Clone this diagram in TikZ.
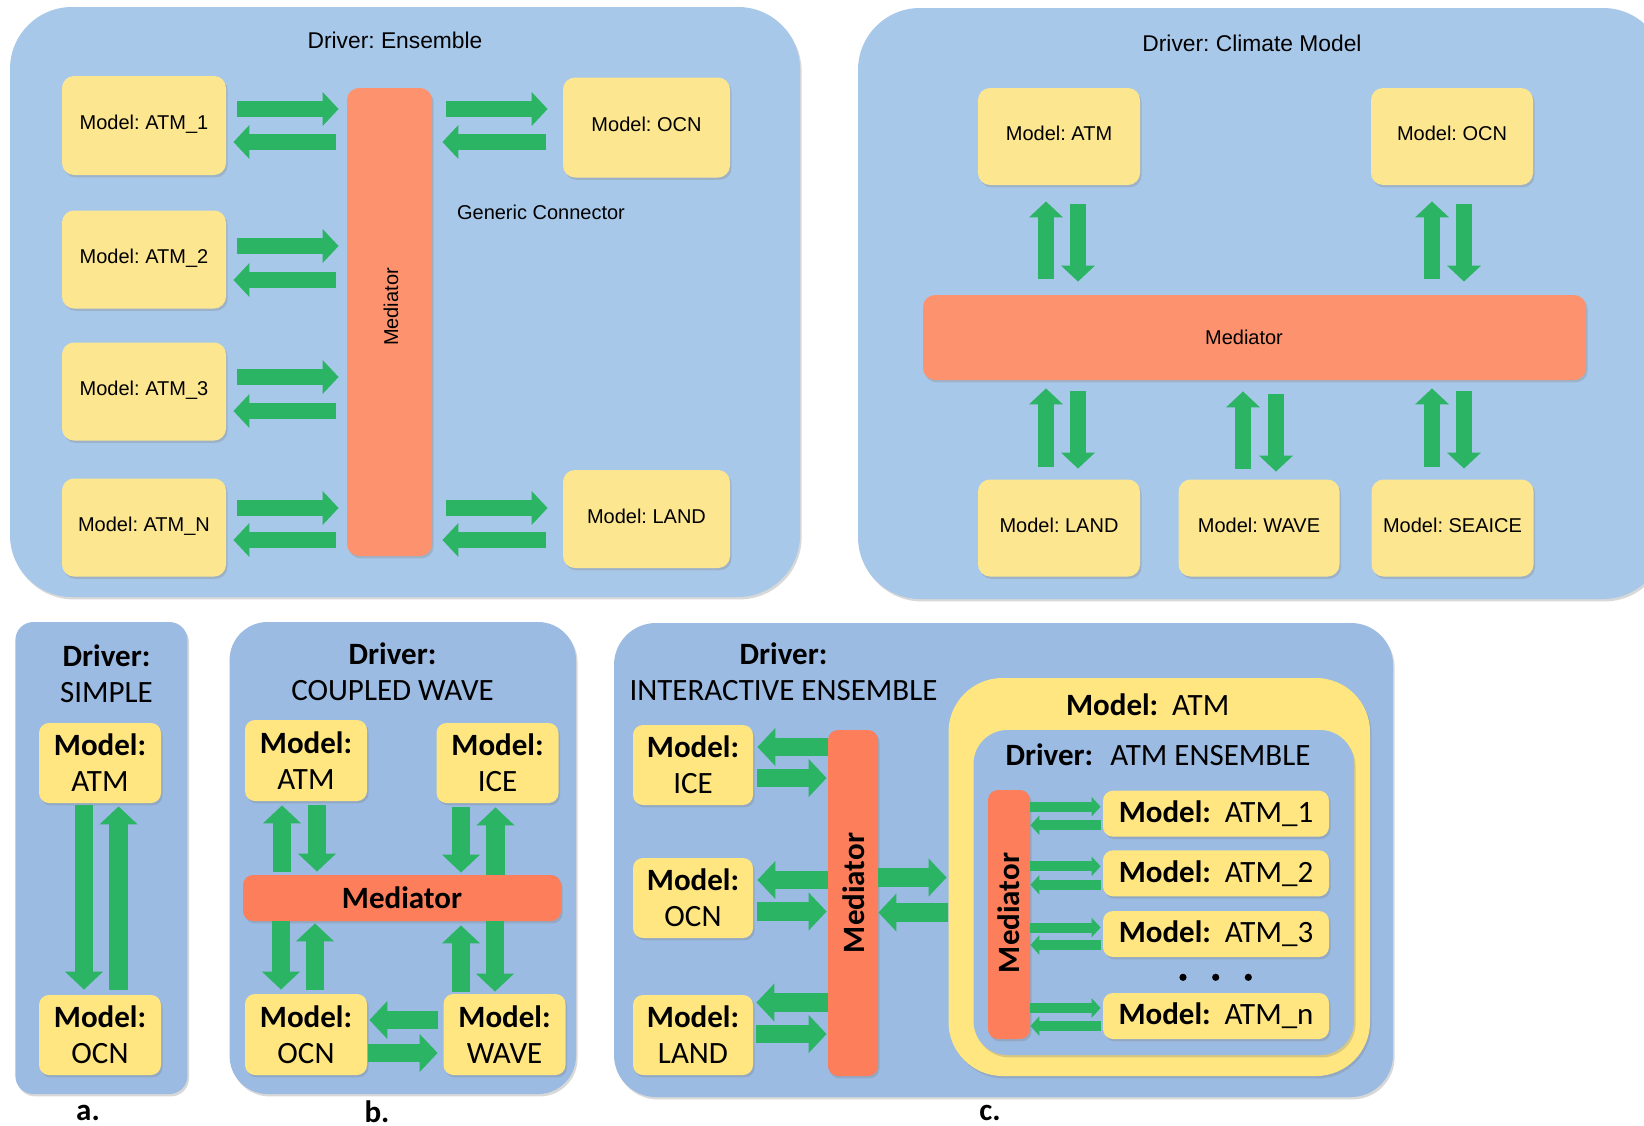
\documentclass[tikz,border=0pt]{standalone}
\usepackage{fontspec}
\setmainfont{Liberation Sans}
\newfontfamily\calfont{Carlito}
\usetikzlibrary{arrows.meta,calc,shadows}
\frenchspacing

\definecolor{blueT}{HTML}{A8C8EA}
\definecolor{blueB}{HTML}{9BBBE3}
\definecolor{yelT}{HTML}{FCE690}
\definecolor{yelB}{HTML}{FFE680}
\definecolor{orT}{HTML}{FD926E}
\definecolor{orB}{HTML}{FD7E5A}
\definecolor{arrowgreen}{HTML}{2BB463}

\newcommand\fTop{\fontsize{10}{12}\selectfont}
\newcommand\fHead{\fontsize{11.4}{13.7}\selectfont}
\newcommand\fBot{\calfont\fontsize{15.5}{18}\selectfont}

\begin{document}
\begin{tikzpicture}[x=0.5pt,y=-0.5pt,
  sz/.style 2 args={minimum width=#1*0.5pt,minimum height=#2*0.5pt},
  shade/.style={drop shadow={shadow xshift=0.8pt,shadow yshift=-1.2pt,opacity=0.3}},
  panelT/.style={fill=blueT,rounded corners=31pt,inner sep=0pt,shade},
  boxT/.style={fill=yelT,rounded corners=6pt,inner sep=0pt,align=center,font=\fTop,
               text height=7pt,text depth=3pt,shade},
  medT/.style={fill=orT,rounded corners=6pt,inner sep=0pt,shade},
  fatT/.style={draw=arrowgreen,line width=8pt,-{Triangle[width=16.5pt,length=8pt]}},
  panelB/.style={fill=blueB,inner sep=0pt,shade},
  boxB/.style={fill=yelB,rounded corners=5pt,inner sep=0pt,align=center,font=\fBot,shade},
  medB/.style={fill=orB,rounded corners=5pt,inner sep=0pt,font=\fBot\bfseries,shade},
  fatB/.style={draw=arrowgreen,line width=9.25pt,-{Triangle[width=18.5pt,length=9pt]}},
  thinB/.style={draw=arrowgreen,line width=5pt,-{Triangle[width=9.5pt,length=4.5pt]}},
  dot/.style={circle,fill=black,inner sep=0pt,minimum size=3.6pt},
  sublabel/.style={font=\fBot\bfseries,inner sep=0pt}]

\useasboundingbox (0,0) rectangle (1644,1125);
\fill[white] (0,0) rectangle (1644,1125);
\clip (0,0) rectangle (1644,1125);

%% ---------------- Driver: Ensemble ----------------
\node[panelT,sz={790}{590}] (drvE) at (405,302) {};
\node[font=\fHead] (ttlE) at (395,40) {Driver: Ensemble};
\node[boxT,sz={164}{99}] (eA1) at (144,125.5) {Model: ATM\_1};
\node[boxT,sz={164}{98}] (eA2) at (144,259.5) {Model: ATM\_2};
\node[boxT,sz={164}{98}] (eA3) at (144,391.5) {Model: ATM\_3};
\node[boxT,sz={164}{98}] (eAN) at (144,527.5) {Model: ATM\_N};
\node[medT,sz={85}{468}] (eMed) at (389.5,322) {};
\node[font=\fTop,rotate=90] (eMedLbl) at (391,307) {Mediator};
\node[boxT,sz={167}{100}] (eOCN) at (646.5,127.5) {Model: OCN};
\node[boxT,sz={167}{98}] (eLAND) at (646.5,519) {Model: LAND};
\node[font=\fTop] (gen) at (541,212) {Generic Connector};

% models -> mediator and back
\draw[fatT] ($(eA1.east)+(11,-16.5)$) -- ($(eA1.east -| eMed.west)+(-8,-16.5)$);
\draw[fatT] ($(eA1.east -| eMed.west)+(-11,16.5)$) -- ($(eA1.east)+(7,16.5)$);
\draw[fatT] ($(eA2.east)+(11,-13.5)$) -- ($(eA2.east -| eMed.west)+(-8,-13.5)$);
\draw[fatT] ($(eA2.east -| eMed.west)+(-11,20.5)$) -- ($(eA2.east)+(7,20.5)$);
\draw[fatT] ($(eA3.east)+(11,-14.5)$) -- ($(eA3.east -| eMed.west)+(-8,-14.5)$);
\draw[fatT] ($(eA3.east -| eMed.west)+(-11,19.5)$) -- ($(eA3.east)+(7,19.5)$);
\draw[fatT] ($(eAN.east)+(11,-19.5)$) -- ($(eAN.east -| eMed.west)+(-8,-19.5)$);
\draw[fatT] ($(eAN.east -| eMed.west)+(-11,12.5)$) -- ($(eAN.east)+(7,12.5)$);
\draw[fatT] ($(eOCN.west -| eMed.east)+(14,-18.5)$) -- ($(eOCN.west)+(-15,-18.5)$);
\draw[fatT] ($(eOCN.west)+(-17,14.5)$) -- ($(eOCN.west -| eMed.east)+(10,14.5)$);
\draw[fatT] ($(eLAND.west -| eMed.east)+(14,-11)$) -- ($(eLAND.west)+(-15,-11)$);
\draw[fatT] ($(eLAND.west)+(-17,21)$) -- ($(eLAND.west -| eMed.east)+(10,21)$);

%% ---------------- Driver: Climate Model ----------------
\node[panelT,sz={807}{591}] (drvC) at (1261.5,303.5) {};
\node[font=\fHead] (ttlC) at (1252,43) {Driver: Climate Model};
\node[boxT,sz={162}{97}] (cATM) at (1059,136.5) {Model: ATM};
\node[boxT,sz={162}{97}] (cOCN) at (1452,136.5) {Model: OCN};
\node[medT,sz={663}{85}] (cMed) at (1254.5,337.5) {};
\node[font=\fTop] (cMedLbl) at (1244,337) {Mediator};
\node[boxT,sz={162}{97}] (cLAND) at (1059,528) {Model: LAND};
\node[boxT,sz={161}{97}] (cWAVE) at (1259,528) {Model: WAVE};
\node[boxT,sz={162}{97}] (cICE) at (1452.5,528) {Model: SEAICE};

\draw[fatT] ($(cATM.south |- cMed.north)+(-13,-16)$) -- ($(cATM.south)+(-13,16)$);
\draw[fatT] ($(cATM.south)+(19,19)$) -- ($(cATM.south |- cMed.north)+(19,-13)$);
\draw[fatT] ($(cOCN.south |- cMed.north)+(-20,-16)$) -- ($(cOCN.south)+(-20,16)$);
\draw[fatT] ($(cOCN.south)+(12,19)$) -- ($(cOCN.south |- cMed.north)+(12,-13)$);
\draw[fatT] ($(cLAND.north)+(-13,-12.5)$) -- ($(cLAND.north |- cMed.south)+(-13,8)$);
\draw[fatT] ($(cLAND.north |- cMed.south)+(19,11)$) -- ($(cLAND.north)+(19,-10.5)$);
\draw[fatT] ($(cWAVE.north)+(-16,-10.5)$) -- ($(cWAVE.north |- cMed.south)+(-16,11)$);
\draw[fatT] ($(cWAVE.north |- cMed.south)+(17,14)$) -- ($(cWAVE.north)+(17,-7.5)$);
\draw[fatT] ($(cICE.north)+(-20.5,-12.5)$) -- ($(cICE.north |- cMed.south)+(-20.5,8)$);
\draw[fatT] ($(cICE.north |- cMed.south)+(11.5,11)$) -- ($(cICE.north)+(11.5,-10.5)$);

%% ---------------- a. Driver: SIMPLE ----------------
\node[panelB,rounded corners=9pt,sz={172}{472}] (drvA) at (101.4,858) {};
\node[font=\fBot,align=center] (ttlA) at (106.5,673.5) {\textbf{Driver:}\\SIMPLE};
\node[boxB,sz={122}{80}] (aATM) at (100,763) {\textbf{Model:}\\ATM};
\node[boxB,sz={122}{80}] (aOCN) at (100,1035) {\textbf{Model:}\\OCN};
\draw[fatB] ($(aATM.south)+(-16,2)$) -- ($(aOCN.north)+(-16,-5)$);
\draw[fatB] ($(aOCN.north)+(18.6,-5)$) -- ($(aATM.south)+(18.6,3)$);
\node[sublabel] (labA) at (88,1113) {a.};

%% ---------------- b. Driver: COUPLED WAVE ----------------
\node[panelB,rounded corners=19pt,sz={346.4}{472}] (drvB) at (402.8,858) {};
\node[font=\fBot,align=center] (ttlB) at (392.5,672) {\textbf{Driver:}\\COUPLED WAVE};
\node[boxB,sz={122}{81}] (bATM) at (306,760.5) {\textbf{Model:}\\ATM};
\node[boxB,sz={122}{80}] (bICE) at (497.5,763) {\textbf{Model:}\\ICE};
\node[medB,sz={318}{46}] (bMed) at (402,898) {Mediator};
\node[boxB,sz={122}{81}] (bOCN) at (306,1034.5) {\textbf{Model:}\\OCN};
\node[boxB,sz={122}{81}] (bWAVE) at (504.5,1034.5) {\textbf{Model:}\\WAVE};

\draw[fatB] ($(bATM.south |- bMed.north)+(-24,-3)$) -- ($(bATM.south)+(-24,4)$);
\draw[fatB] ($(bATM.south)+(11,4)$) -- ($(bATM.south |- bMed.north)+(11,-3)$);
\draw[fatB] ($(bICE.south)+(-36.5,4)$) -- ($(bICE.south |- bMed.north)+(-36.5,-2)$);
\draw[fatB] ($(bICE.south |- bMed.north)+(-2,0)$) -- ($(bICE.south)+(-2,4)$);
\draw[fatB] ($(bOCN.north |- bMed.south)+(-25,0)$) -- ($(bOCN.north)+(-25,-4)$);
\draw[fatB] ($(bOCN.north)+(9,-4)$) -- ($(bOCN.north |- bMed.south)+(9,2)$);
\draw[fatB] ($(bWAVE.north)+(-43.5,-2)$) -- ($(bWAVE.north |- bMed.south)+(-43.5,4)$);
\draw[fatB] ($(bWAVE.north |- bMed.south)+(-9.5,0)$) -- ($(bWAVE.north)+(-9.5,-2)$);
\draw[fatB] ($(bWAVE.west)+(-5.5,-14.5)$) -- ($(bOCN.east)+(2,-14.5)$);
\draw[fatB] ($(bOCN.east)+(1,18.5)$) -- ($(bWAVE.west)+(-5.5,18.5)$);
\node[sublabel] (labB) at (377,1112) {b.};

%% ---------------- c. Driver: INTERACTIVE ENSEMBLE ----------------
\node[panelB,rounded corners=21pt,sz={779}{474}] (drvI) at (1003.5,860) {};
\node[font=\fBot,align=center] (ttlI) at (783.5,671.5) {\textbf{Driver:}\\INTERACTIVE ENSEMBLE};
\node[boxB,sz={120}{80}] (iICE) at (693,765) {\textbf{Model:}\\ICE};
\node[boxB,sz={120}{80}] (iOCN) at (693,898) {\textbf{Model:}\\OCN};
\node[boxB,sz={120}{80}] (iLAND) at (693,1035) {\textbf{Model:}\\LAND};
\node[medB,sz={50}{346}] (iMed) at (853,903) {};
\node[font=\fBot\bfseries,rotate=90] (iMedLbl) at (853.5,893) {Mediator};

% nested ATM model holding its own ensemble driver
\node[fill=yelB,rounded corners=27pt,inner sep=0pt,sz={421.5}{398},shade] (iATM) at (1159.25,877) {};
\node[font=\fBot] (iATMLbl) at (1147.7,705) {\textbf{Model:}\hspace{0.45em}ATM};
\node[fill=blueB,rounded corners=17pt,inner sep=0pt,sz={380.5}{325},shade] (iDrv) at (1163.75,892.5) {};
\node[font=\fBot] (iDrvLbl) at (1158,755) {\textbf{Driver:}\hspace{0.55em}ATM ENSEMBLE};
\node[medB,sz={42}{249}] (jMed) at (1009,914.5) {};
\node[font=\fBot\bfseries,rotate=90] (jMedLbl) at (1009,913) {Mediator};
\node[boxB,sz={226}{46}] (j1) at (1216,813.7) {\textbf{Model:}\hspace{0.45em}ATM\_1};
\node[boxB,sz={226}{46}] (j2) at (1216,873.3) {\textbf{Model:}\hspace{0.45em}ATM\_2};
\node[boxB,sz={226}{46}] (j3) at (1216,934) {\textbf{Model:}\hspace{0.45em}ATM\_3};
\node[boxB,sz={226}{46}] (jn) at (1216,1016) {\textbf{Model:}\hspace{0.45em}ATM\_n};
\node[dot] (d1) at (1183,977.3) {};
\node[dot] (d2) at (1215.7,977.3) {};
\node[dot] (d3) at (1248.3,977.3) {};

\draw[fatB] ($(iICE.east -| iMed.west)+(0,-18)$) -- ($(iICE.east)+(4,-18)$);
\draw[fatB] ($(iICE.east)+(4,13)$) -- ($(iICE.east -| iMed.west)+(-1,13)$);
\draw[fatB] ($(iOCN.east -| iMed.west)+(0,-18)$) -- ($(iOCN.east)+(4,-18)$);
\draw[fatB] ($(iOCN.east)+(4,13.5)$) -- ($(iOCN.east -| iMed.west)+(-1,13.5)$);
\draw[fatB] ($(iLAND.east -| iMed.west)+(0,-32.5)$) -- ($(iLAND.east)+(3,-32.5)$);
\draw[fatB] ($(iLAND.east)+(3,-1)$) -- ($(iLAND.east -| iMed.west)+(-1,-1)$);
\draw[fatB] ($(iMed.east)+(0,-25.5)$) -- ($(iMed.east -| iATM.west)+(-1.5,-25.5)$);
\draw[fatB] ($(iMed.east -| iATM.west)+(0,9.5)$) -- ($(iMed.east)+(0,9.5)$);

\draw[thinB] ($(j1.west -| jMed.east)+(0,-7)$) -- ($(j1.west)+(-2,-7)$);
\draw[thinB] ($(j1.west)+(-1.5,11.5)$) -- ($(j1.west -| jMed.east)+(0,11.5)$);
\draw[thinB] ($(j2.west -| jMed.east)+(0,-7)$) -- ($(j2.west)+(-2,-7)$);
\draw[thinB] ($(j2.west)+(-1.5,11.5)$) -- ($(j2.west -| jMed.east)+(0,11.5)$);
\draw[thinB] ($(j3.west -| jMed.east)+(0,-6.5)$) -- ($(j3.west)+(-2,-6.5)$);
\draw[thinB] ($(j3.west)+(-1.5,11)$) -- ($(j3.west -| jMed.east)+(0,11)$);
\draw[thinB] ($(jn.west -| jMed.east)+(0,-8)$) -- ($(jn.west)+(-2,-8)$);
\draw[thinB] ($(jn.west)+(-1.5,10)$) -- ($(jn.west -| jMed.east)+(0,10)$);
\node[sublabel] (labC) at (990,1113) {c.};

\end{tikzpicture}
\end{document}
